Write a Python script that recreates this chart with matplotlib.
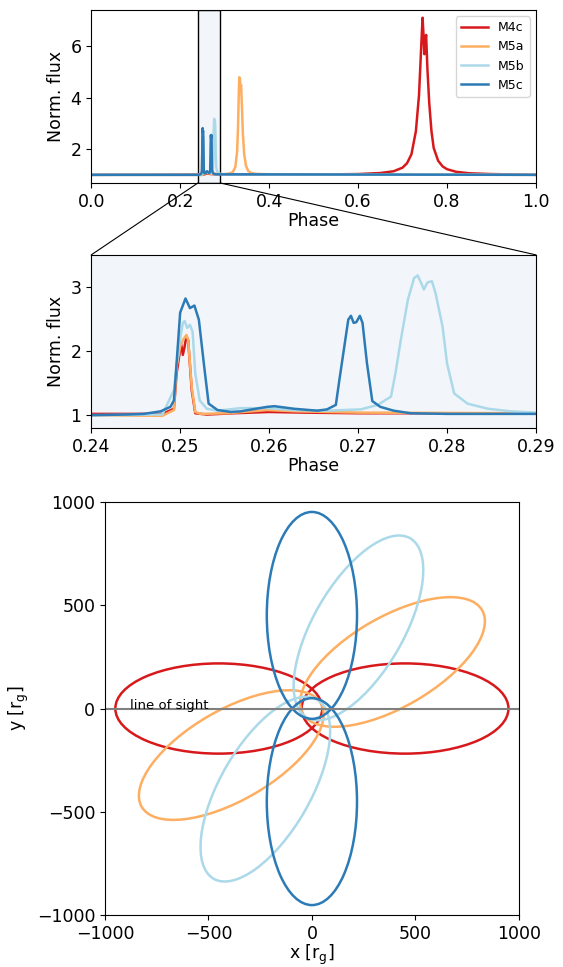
import matplotlib
matplotlib.use('Agg')
import matplotlib.pyplot as plt
from matplotlib.patches import Ellipse, ConnectionPatch
import numpy as np

# model names and colours
models = ['M4c', 'M5a', 'M5b', 'M5c']
colors = ['#d7191c', '#fdae61', '#abd9e9', '#2c7bb6']

# light curves (phase, normalised flux)
phase_m4c = [0.0, 0.2, 0.24, 0.248, 0.2493, 0.2496, 0.2501, 0.2503, 0.2505, 0.2507, 0.2509,
             0.2513, 0.2517, 0.253, 0.256, 0.26, 0.264, 0.27, 0.28, 0.3, 0.5, 0.6, 0.65,
             0.68, 0.70, 0.71, 0.72, 0.73, 0.737, 0.742, 0.745, 0.747, 0.749, 0.751,
             0.753, 0.756, 0.76, 0.765, 0.77, 0.78, 0.79, 0.80, 0.82, 0.85, 0.9, 1.0]
flux_m4c = [1.0, 1.01, 1.02, 1.02, 1.10, 1.65, 2.12, 1.94, 2.07, 2.23, 2.17,
            1.39, 1.03, 1.01, 1.03, 1.05, 1.04, 1.03, 1.03, 1.02, 1.01, 1.03, 1.07,
            1.14, 1.28, 1.45, 1.8, 2.7, 4.1, 6.0, 7.12, 6.5, 5.7, 6.2,
            6.45, 5.1, 3.8, 2.7, 2.05, 1.55, 1.33, 1.22, 1.12, 1.06, 1.03, 1.0]

phase_m5a = [0.0, 0.24, 0.248, 0.2493, 0.2496, 0.25, 0.2503, 0.2507, 0.2509, 0.2513, 0.2517,
             0.2523, 0.2553, 0.2598, 0.263, 0.27, 0.29, 0.30, 0.31, 0.318, 0.324, 0.328,
             0.330, 0.332, 0.333, 0.3345, 0.3355, 0.337, 0.339, 0.341, 0.344, 0.348,
             0.353, 0.36, 0.37, 0.4, 1.0]
flux_m5a = [1.0, 1.0, 0.99, 1.08, 1.76, 2.07, 2.17, 2.25, 2.17, 1.44, 1.05,
            1.02, 1.03, 1.08, 1.06, 1.04, 1.03, 1.03, 1.05, 1.1, 1.3, 1.9,
            2.8, 4.3, 4.8, 4.75, 4.35, 4.5, 3.6, 2.6, 1.8, 1.35,
            1.15, 1.07, 1.04, 1.02, 1.0]

phase_m5b = [0.0, 0.24, 0.248, 0.2493, 0.2498, 0.2503, 0.2505, 0.2508, 0.2511, 0.2514, 0.2517,
             0.2522, 0.253, 0.2542, 0.2568, 0.2598, 0.2628, 0.2665, 0.2703, 0.2722, 0.2737,
             0.2742, 0.2748, 0.2756, 0.2763, 0.2767, 0.2771, 0.2774, 0.2778, 0.2783, 0.2787,
             0.2795, 0.28, 0.2808, 0.2823, 0.2846, 0.2872, 0.29, 0.3, 1.0]
flux_m5b = [1.0, 1.0, 1.01, 1.39, 2.02, 2.44, 2.47, 2.36, 2.41, 2.3, 1.65,
            1.23, 1.10, 1.07, 1.11, 1.11, 1.08, 1.07, 1.09, 1.16, 1.29,
            1.65, 2.17, 2.80, 3.14, 3.18, 3.06, 2.96, 3.07, 3.09, 2.91,
            2.38, 1.81, 1.34, 1.18, 1.10, 1.06, 1.04, 1.01, 1.0]

phase_m5c = [0.0, 0.24, 0.244, 0.2459, 0.2478, 0.2489, 0.2493, 0.25, 0.2506, 0.2511, 0.2516,
             0.2521, 0.2527, 0.2532, 0.2542, 0.2557, 0.2568, 0.2598, 0.2606, 0.2628, 0.2654,
             0.2665, 0.2675, 0.2679, 0.2684, 0.2689, 0.2692, 0.2695, 0.2698, 0.2702, 0.2705,
             0.271, 0.2716, 0.2725, 0.274, 0.2759, 0.28, 0.29, 1.0]
flux_m5c = [1.0, 1.0, 1.01, 1.02, 1.06, 1.13, 1.23, 2.6, 2.82, 2.67, 2.71,
            2.49, 1.76, 1.18, 1.08, 1.05, 1.06, 1.13, 1.14, 1.10, 1.07,
            1.09, 1.16, 1.55, 2.02, 2.49, 2.55, 2.44, 2.45, 2.55, 2.44,
            1.81, 1.22, 1.13, 1.07, 1.03, 1.02, 1.02, 1.0]

phases = [phase_m4c, phase_m5a, phase_m5b, phase_m5c]
fluxes = [flux_m4c, flux_m5a, flux_m5b, flux_m5c]

# orbits: semi-major / semi-minor axis [r_g], focus offset, orientation [deg]
semi_major = [500, 500, 500, 500]
semi_minor = [218, 218, 218, 218]
focus_offset = [450, 450, 450, 450]
orbit_angle = [0, 30, 60, 90]

zoom_lo, zoom_hi = 0.24, 0.29
shade = '#f2f6fa'

plt.rcParams['font.size'] = 12.5

fig = plt.figure(figsize=(5.63, 9.67), dpi=100)
ax1 = fig.add_axes([0.162, 0.8108, 0.790, 0.179])
ax2 = fig.add_axes([0.162, 0.5574, 0.790, 0.179])
ax3 = fig.add_axes([0.1865, 0.0517, 0.735, 0.4312])

# full phase
for name, c, ph, fl in zip(models, colors, phases, fluxes):
    ax1.plot(ph, fl, color=c, lw=1.8, label=name)
ax1.axvspan(zoom_lo, zoom_hi, facecolor=shade, edgecolor='k', lw=1, zorder=0)
ax1.set_xlim(0, 1)
ax1.set_xlabel('Phase', labelpad=1)
ax1.set_ylabel('Norm. flux')
ax1.legend(loc='upper right', fontsize=9, handlelength=2.2)

# zoom
for name, c, ph, fl in zip(models, colors, phases, fluxes):
    ax2.plot(ph, fl, color=c, lw=1.8)
ax2.set_facecolor(shade)
ax2.set_xlim(zoom_lo, zoom_hi)
ax2.set_ylim(0.8, 3.5)
ax2.set_xticks([0.24, 0.25, 0.26, 0.27, 0.28, 0.29])
ax2.set_yticks([1, 2, 3])
ax2.set_xlabel('Phase', labelpad=1)
ax2.set_ylabel('Norm. flux')

for xa, xb in [(zoom_lo, 0), (zoom_hi, 1)]:
    con = ConnectionPatch(xyA=(xa, 0), coordsA=ax1.get_xaxis_transform(),
                          xyB=(xb, 1), coordsB=ax2.transAxes, color='k', lw=0.8)
    fig.add_artist(con)

# orbits
for c, a, b, d, ang in zip(colors, semi_major, semi_minor, focus_offset, orbit_angle):
    t = np.deg2rad(ang)
    for s in (1, -1):
        e = Ellipse((s * d * np.cos(t), s * d * np.sin(t)), 2 * a, 2 * b, angle=ang,
                    fill=False, edgecolor=c, lw=1.8)
        ax3.add_patch(e)
ax3.axhline(0, color='gray', lw=1.5)
ax3.text(-880, 0, 'line of sight', fontsize=9.5, va='baseline')
ax3.set_xlim(-1000, 1000)
ax3.set_ylim(-1000, 1000)
ax3.set_aspect('equal')
ax3.set_xticks([-1000, -500, 0, 500, 1000])
ax3.set_yticks([-1000, -500, 0, 500, 1000])
ax3.set_xlabel(r'x [r$_\mathrm{g}$]', labelpad=0)
ax3.set_ylabel(r'y [r$_\mathrm{g}$]')

fig.savefig('out.png', dpi=100)
